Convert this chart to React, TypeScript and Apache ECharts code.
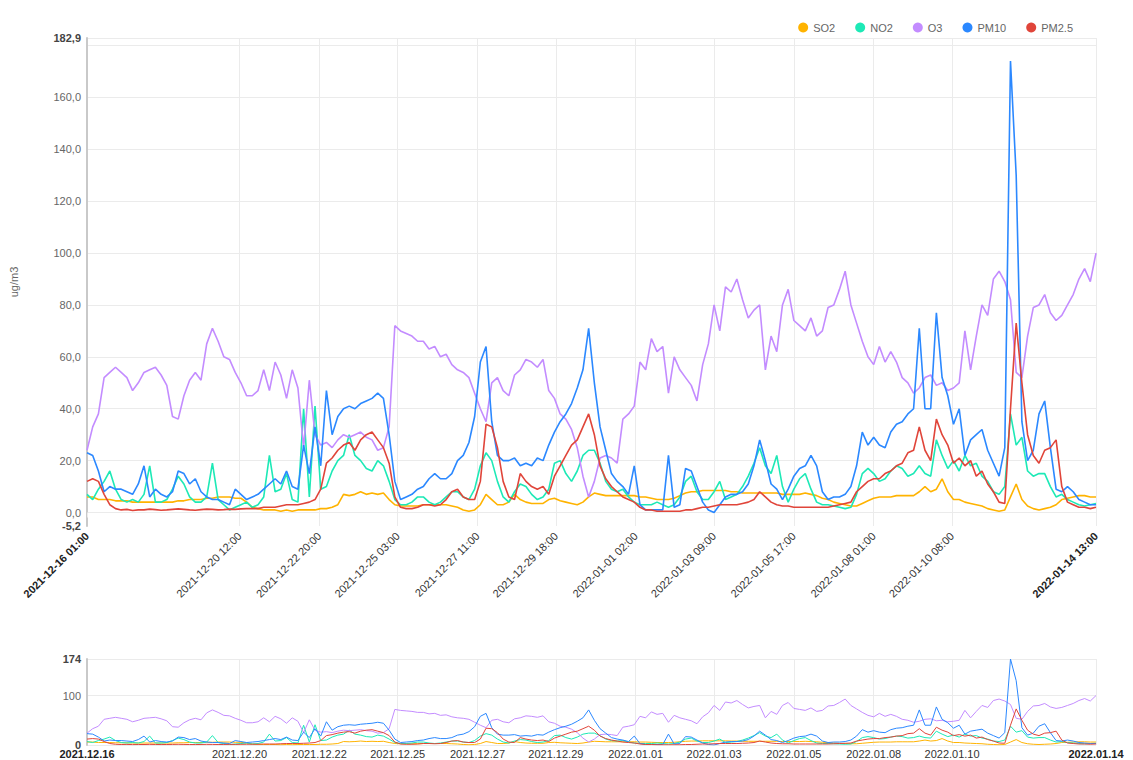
import React, { useEffect, useRef } from "react";
import * as echarts from "echarts";

const START = "2021-12-16 01:00";
const STEP_HOURS = 4;

const X_TICKS = [
  "2021-12-16 01:00", "2021-12-20 12:00", "2021-12-22 20:00", "2021-12-25 03:00",
  "2021-12-27 11:00", "2021-12-29 18:00", "2022-01-01 02:00", "2022-01-03 09:00",
  "2022-01-05 17:00", "2022-01-08 01:00", "2022-01-10 08:00", "2022-01-14 13:00",
];

const SERIES_NAMES = ["SO2", "NO2", "O3", "PM10", "PM2.5"];
const COLORS = ["#ffb300", "#1de9b6", "#c38cff", "#2b88ff", "#e0453a"];

const Y_MIN = -5.2;
const Y_MAX = 182.9;
const Y_LABELS = [Y_MIN, 0, 20, 40, 60, 80, 100, 120, 140, 160, Y_MAX];
const Y_GRID = [0, 20, 40, 60, 80, 100, 120, 140, 160, 180, Y_MAX];
const OV_MAX = 174;
const OV_LABELS = [0, 100, OV_MAX];

const so2 = [
  6, 6, 5, 5, 5, 4.5, 4.5, 4.5, 4, 4, 4, 4, 4, 4, 4, 4, 4.5, 4.5, 5, 5, 5, 5.5, 5.5, 6, 6, 6, 5.5, 5.5, 4,
  2, 1.5, 1, 1, 1, 0.5, 1, 0.5, 1, 1, 1, 1, 1.5, 1.5, 2, 3, 7, 6.5, 7, 8, 7, 7.5, 7, 7.5, 5, 3, 2.5, 2.5, 2.5, 2.5,
  3, 3, 3, 3, 3, 2.5, 2, 1, 0.5, 1, 3, 7, 5, 3, 3, 4, 7, 5, 4, 3.5, 3.5, 3.5, 5, 5.5, 4.5, 4, 3.5, 3, 4, 6,
  7.5, 7, 6.5, 6.5, 6.5, 6.5, 6.5, 6.5, 6, 6, 5.5, 5, 5, 5, 5.5, 6.5, 7.5, 8, 8, 8.5, 8.5, 8.5, 8.5, 8.5, 8, 8, 7.5, 7.5, 7.5,
  7.5, 7.5, 7.5, 7.5, 7, 7, 7, 7, 7.5, 7, 6.5, 5.5, 5, 4, 3.5, 3, 2.5, 2.5, 3.5, 4.5, 5.5, 6, 6, 6, 6.5, 6.5, 6.5, 6.5, 8, 10,
  8, 9, 13, 8, 5, 5, 4, 3.5, 3, 2.5, 1.5, 1, 0.5, 1, 6, 11, 5, 2.5, 1.5, 1, 1.5, 2, 3, 5, 5.5, 6, 6.5, 6.5, 6, 6,
];

const no2 = [
  7, 5, 9, 12, 16, 9, 5, 4, 5, 4, 7, 18, 4, 4, 5, 9, 14, 11, 6, 4, 4, 6, 19, 5, 3, 1, 2, 3, 4,
  2, 3, 6, 22, 8, 9, 15, 5, 4, 40, 6, 41, 9, 10, 16, 20, 22, 30, 22, 20, 17, 16, 20, 18, 12, 5, 3, 3, 4, 6,
  6, 4, 3, 4, 6, 8, 8, 6, 5, 9, 18, 23, 20, 12, 6, 4, 8, 11, 10, 7, 5, 6, 9, 19, 20, 15, 12, 16, 22, 24,
  24, 19, 12, 9, 8, 9, 6, 4, 3, 3, 3, 4, 3, 2, 3, 6, 12, 14, 8, 5, 5, 8, 12, 5, 6, 7, 10, 14, 19,
  25, 18, 15, 22, 10, 4, 9, 13, 15, 9, 4, 3, 3, 2.5, 2, 1.5, 2, 7, 15, 17, 15, 12, 13, 16, 18, 17, 14, 15, 18, 15,
  14, 28, 22, 17, 20, 16, 22, 18, 19, 14, 12, 8, 7, 10, 38, 26, 29, 16, 14, 15, 15, 10, 6, 7, 5, 4, 3, 2.5, 3, 3.5,
];

const o3 = [
  24, 33, 38, 52, 54, 56, 54, 52, 47, 50, 54, 55, 56, 53, 49, 37, 36, 45, 51, 54, 51, 65, 71, 66, 60, 59, 54, 50, 45,
  45, 47, 55, 47, 58, 53, 44, 55, 48, 25, 51, 30, 26, 27, 25, 28, 30, 29, 30, 31, 29, 28, 24, 25, 33, 72, 70, 69, 68, 66,
  66, 63, 64, 60, 61, 57, 55, 54, 52, 46, 40, 35, 50, 52, 47, 45, 53, 55, 59, 58, 56, 59, 47, 44, 38, 36, 32, 25, 14, 6,
  12, 21, 22, 21, 19, 36, 38, 41, 58, 55, 67, 62, 64, 46, 60, 55, 52, 49, 43, 57, 65, 80, 70, 87, 85, 90, 82, 75, 78,
  80, 55, 68, 62, 80, 86, 74, 72, 70, 75, 68, 70, 79, 80, 86, 93, 80, 73, 66, 60, 57, 64, 58, 62, 58, 52, 50, 46, 48, 52,
  53, 49, 50, 47, 48, 50, 70, 55, 68, 80, 76, 90, 93, 89, 82, 54, 52, 68, 79, 80, 84, 77, 74, 76, 80, 84, 90, 94, 89, 100,
];

const pm10 = [
  23, 22, 16, 8, 10, 9, 9, 8, 7, 11, 18, 6, 9, 7, 6, 8, 16, 15, 11, 13, 8, 6, 5, 5, 4, 3, 9, 7, 5,
  6, 7, 9, 11, 13, 11, 16, 10, 9, 26, 15, 33, 18, 47, 30, 37, 40, 41, 40, 42, 43, 44, 46, 44, 30, 12, 5, 6, 7, 9,
  10, 13, 15, 13, 13, 15, 20, 22, 27, 37, 58, 64, 35, 22, 20, 20, 21, 18, 19, 18, 21, 20, 26, 31, 35, 38, 42, 48, 55, 71,
  50, 33, 24, 15, 12, 10, 7, 18, 3, 1, 1, 1, 1, 22, 2, 3, 17, 16, 10, 4, 1, 0, 3, 6, 7, 7, 8, 11, 18,
  28, 20, 11, 9, 5, 9, 14, 17, 18, 22, 18, 8, 5, 6, 6, 7, 10, 18, 31, 26, 29, 26, 25, 31, 34, 35, 38, 40, 71, 40,
  40, 77, 52, 45, 34, 40, 22, 28, 30, 32, 24, 19, 14, 25, 174, 130, 35, 20, 24, 38, 43, 25, 9, 8, 10, 8, 5, 4, 3, 3,
];

const pm25 = [
  12, 13, 12, 7, 3, 1.5, 1, 1.2, 0.8, 1, 1, 1.3, 1.1, 0.9, 1, 1.2, 1.4, 1.2, 1, 0.9, 1.1, 1.3, 1.2, 1, 1.1, 1.3, 1.2, 1.4, 1.5,
  1.5, 1.5, 2, 2, 2, 2.5, 3, 3, 3, 3.5, 4, 5, 9, 19, 21, 24, 26, 27, 24, 28, 30, 31, 28, 25, 19, 6, 2, 1.5, 1.5, 2,
  3, 3, 2.5, 3, 5, 8, 9, 6, 5, 5, 12, 34, 33, 25, 12, 6, 5, 15, 12, 10, 9, 10, 7, 14, 18, 22, 26, 28, 33, 38,
  30, 18, 13, 10, 8, 6, 5, 4, 2, 1, 1, 0.5, 0.5, 0.5, 0.5, 0.5, 1, 1, 1.5, 2, 2, 2.5, 3, 3, 3, 3, 3.5, 4, 5,
  8, 6, 4, 3, 2.5, 2.5, 2, 2, 2, 2, 2, 2, 2, 2.5, 3, 3.5, 4, 8, 10, 12, 13, 13, 15, 16, 18, 19, 23, 24, 33, 24,
  20, 36, 30, 26, 19, 21, 18, 20, 14, 16, 11, 8, 4, 3.5, 40, 73, 50, 30, 22, 19, 24, 25, 28, 10, 4, 3, 2, 2, 1.5, 2,
];

const SERIES_VALUES = [so2, no2, o3, pm10, pm25];

function parseUTC(s: string): number {
  const [d, t] = s.split(" ");
  const [Y, M, D] = d.split("-").map(Number);
  const [hh, mm] = t.split(":").map(Number);
  return Date.UTC(Y, M - 1, D, hh, mm);
}

const FONT = "Liberation Sans, Arial, sans-serif";

export default function App() {
  const ref = useRef<HTMLDivElement>(null);

  useEffect(() => {
    if (!ref.current) return;
    const chart = echarts.init(ref.current, null, { renderer: "svg" });
    const t0 = parseUTC(START);
    const tickHours = X_TICKS.map((s) => (parseUTC(s) - t0) / 3600000);
    const xMax = tickHours[tickHours.length - 1];
    const findTick = (v: number) => tickHours.findIndex((t) => Math.abs(t - v) < 1e-6);
    const lastIdx = X_TICKS.length - 1;

    const toPairs = (arr: number[]) => arr.map((v, i) => [i * STEP_HOURS, v]);

    const gridColor = "#ebebeb";
    const axisLineColor = "#c9c9c9";

    const mainSeries = SERIES_NAMES.map((name, k) => ({
      name,
      type: "line",
      xAxisIndex: 0,
      yAxisIndex: 0,
      data: toPairs(SERIES_VALUES[k]),
      showSymbol: false,
      symbol: "none",
      lineStyle: { width: 1.6, color: COLORS[k] },
      itemStyle: { color: COLORS[k] },
      z: 2 + k,
    }));
    const ovSeries = SERIES_NAMES.map((name, k) => ({
      name,
      type: "line",
      xAxisIndex: 1,
      yAxisIndex: 1,
      data: toPairs(SERIES_VALUES[k]),
      showSymbol: false,
      symbol: "none",
      lineStyle: { width: 1, color: COLORS[k] },
      itemStyle: { color: COLORS[k] },
      z: 2 + k,
    }));

    const option: any = {
      animation: false,
      backgroundColor: "#ffffff",
      textStyle: { fontFamily: FONT },
      legend: {
        data: SERIES_NAMES,
        right: 55,
        top: 17,
        icon: "circle",
        itemWidth: 10,
        itemHeight: 10,
        itemGap: 20,
        textStyle: { fontSize: 11, color: "#666", fontFamily: FONT },
      },
      grid: [
        { left: 87, right: 37, top: 38, height: 488, containLabel: false },
        { left: 87, right: 37, top: 659, height: 86, containLabel: false },
      ],
      xAxis: [
        {
          type: "value",
          gridIndex: 0,
          min: 0,
          max: xMax,
          axisLine: { show: false },
          axisTick: { show: true, length: 5, lineStyle: { color: gridColor }, customValues: tickHours },
          splitLine: { show: true, lineStyle: { color: gridColor, width: 1 } },
          axisLabel: {
            customValues: tickHours,
            rotate: 45,
            margin: 8,
            fontSize: 11,
            color: "#333",
            fontFamily: FONT,
            formatter: (v: number) => {
              const i = findTick(v);
              if (i < 0) return "";
              const s = X_TICKS[i];
              return i === 0 || i === lastIdx ? `{b|${s}}` : s;
            },
            rich: { b: { fontWeight: "bold", fontSize: 11, color: "#222", fontFamily: FONT } },
          },
        },
        {
          type: "value",
          gridIndex: 1,
          min: 0,
          max: xMax,
          axisLine: { show: false },
          axisTick: { show: false, customValues: tickHours },
          splitLine: { show: true, lineStyle: { color: gridColor, width: 1 } },
          axisLabel: {
            customValues: tickHours,
            margin: 3,
            fontSize: 11,
            color: "#333",
            fontFamily: FONT,
            formatter: (v: number) => {
              const i = findTick(v);
              if (i < 0) return "";
              const s = X_TICKS[i].slice(0, 10).replace(/-/g, ".");
              return i === 0 || i === lastIdx ? `{b|${s}}` : s;
            },
            rich: { b: { fontWeight: "bold", fontSize: 11, color: "#222", fontFamily: FONT } },
          },
        },
      ],
      yAxis: [
        {
          type: "value",
          gridIndex: 0,
          min: Y_MIN,
          max: Y_MAX,
          name: "ug/m3",
          nameLocation: "middle",
          nameRotate: 90,
          nameGap: 68,
          nameTextStyle: { fontSize: 11, color: "#666", fontFamily: FONT },
          axisLine: { show: true, lineStyle: { color: axisLineColor, width: 2 } },
          axisTick: { show: false, customValues: Y_GRID },
          splitLine: { show: true, lineStyle: { color: gridColor, width: 1 } },
          axisLabel: {
            customValues: Y_LABELS,
            margin: 6,
            fontSize: 11,
            color: "#666",
            fontFamily: FONT,
            formatter: (v: number) => {
              const s = v.toFixed(1).replace(".", ",");
              return v === Y_MIN || v === Y_MAX ? `{b|${s}}` : s;
            },
            rich: { b: { fontWeight: "bold", fontSize: 11, color: "#444", fontFamily: FONT } },
          },
        },
        {
          type: "value",
          gridIndex: 1,
          min: 0,
          max: OV_MAX,
          axisLine: { show: true, lineStyle: { color: axisLineColor, width: 2 } },
          axisTick: { show: false, customValues: OV_LABELS },
          splitLine: { show: true, lineStyle: { color: gridColor, width: 1 } },
          axisLabel: {
            customValues: OV_LABELS,
            margin: 6,
            fontSize: 11,
            color: "#666",
            fontFamily: FONT,
            formatter: (v: number) => {
              const s = String(v);
              return v === 0 || v === OV_MAX ? `{b|${s}}` : s;
            },
            rich: { b: { fontWeight: "bold", fontSize: 11, color: "#444", fontFamily: FONT } },
          },
        },
      ],
      series: [...mainSeries, ...ovSeries],
    };

    chart.setOption(option);
    return () => chart.dispose();
  }, []);

  return (
    <div
      ref={ref}
      style={{ position: "fixed", left: 0, top: 0, width: 1133, height: 760, background: "#fff" }}
    />
  );
}
